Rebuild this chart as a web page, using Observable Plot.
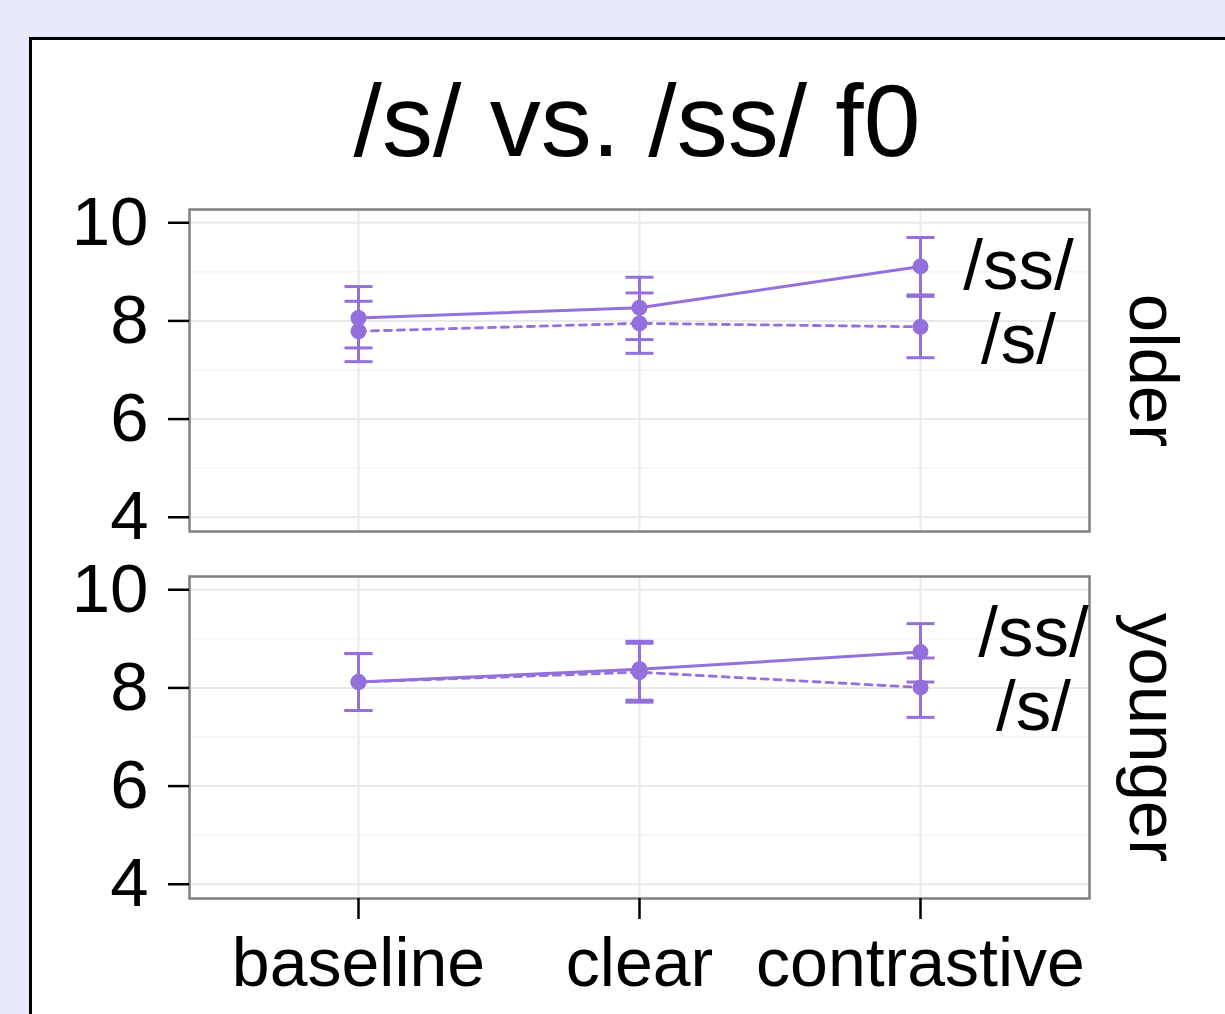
<!DOCTYPE html>
<html>
<head>
<meta charset="utf-8">
<script src="https://cdn.jsdelivr.net/npm/d3@7"></script>
<script src="https://cdn.jsdelivr.net/npm/@observablehq/plot@0.6"></script>
<style>
  html, body { margin: 0; padding: 0; }
  body { width: 1225px; height: 1014px; background: #e8eafc; overflow: hidden; position: relative;
         font-family: "Liberation Sans", Arial, Helvetica, sans-serif; }
  #box { position: absolute; left: 29px; top: 37px; width: 1300px; height: 1100px; background: #fff;
         border: 3px solid #000; box-sizing: border-box; }
  #title { position: absolute; left: 0; top: 70px; width: 1274px; text-align: center; font-size: 102px;
           line-height: 1; color: #000; white-space: nowrap; }
  #chart { position: absolute; left: 0; top: 0; }
</style>
</head>
<body>
<div id="box"></div>
<div id="title">/s/ vs. /ss/ f0</div>
<div id="chart"></div>
<script>
// ---- data ----
const categories = ["baseline", "clear", "contrastive"];
const groups = ["older", "younger"];
const seriesNames = ["/ss/", "/s/"];

const olderSsMean = [8.06, 8.27, 9.11];
const olderSsLo   = [7.45, 7.62, 8.53];
const olderSsHi   = [8.70, 8.89, 9.70];
const olderSMean  = [7.79, 7.95, 7.88];
const olderSLo    = [7.17, 7.34, 7.25];
const olderSHi    = [8.40, 8.57, 8.50];

const youngerSsMean = [8.12, 8.38, 8.73];
const youngerSsLo   = [7.54, 7.75, 8.12];
const youngerSsHi   = [8.70, 8.95, 9.31];
const youngerSMean  = [8.12, 8.32, 8.01];
const youngerSLo    = [7.54, 7.71, 7.40];
const youngerSHi    = [8.70, 8.91, 8.61];

const yTicks = [4, 6, 8, 10];
const yMinorTicks = [5, 7, 9];
const labelY = [9.12, 7.6]; // y position of the direct labels (/ss/, /s/)

// ---- build table ----
const source = {
  older:   {"/ss/": [olderSsMean, olderSsLo, olderSsHi],     "/s/": [olderSMean, olderSLo, olderSHi]},
  younger: {"/ss/": [youngerSsMean, youngerSsLo, youngerSsHi], "/s/": [youngerSMean, youngerSLo, youngerSHi]}
};
const rows = [];
for (const g of groups) for (const s of seriesNames) {
  const [m, lo, hi] = source[g][s];
  categories.forEach((c, i) => rows.push({group: g, series: s, cat: c, mean: m[i], lo: lo[i], hi: hi[i]}));
}
const labels = [];
for (const g of groups) seriesNames.forEach((s, i) => labels.push({group: g, series: s, cat: "contrastive", y: labelY[i]}));

const purple = "#9370db";
const cap = { draw(ctx, size) { const r = Math.sqrt(size / Math.PI); ctx.moveTo(-r, 0); ctx.lineTo(r, 0); } };

const chart = Plot.plot({
  width: 1225,
  height: 1014,
  marginLeft: 189,
  marginRight: 136,
  marginTop: 209,
  marginBottom: 116,
  style: { fontFamily: "'Liberation Sans', Arial, Helvetica, sans-serif", background: "transparent", overflow: "visible", color: "#000" },
  x: { type: "point", domain: categories, padding: 0.6 },
  y: { domain: [3.71, 10.27] },
  fy: { domain: groups, paddingInner: 0.1227, paddingOuter: 0 },
  marks: [
    Plot.gridY(yMinorTicks, { stroke: "#f3f3f3", strokeOpacity: 1, strokeWidth: 1.3 }),
    Plot.gridY(yTicks, { stroke: "#e9e9e9", strokeOpacity: 1, strokeWidth: 2 }),
    Plot.gridX(categories, { stroke: "#e9e9e9", strokeOpacity: 1, strokeWidth: 2 }),
    Plot.frame({ stroke: "#808080", strokeWidth: 2.5 }),
    Plot.axisY(yTicks, { tickSize: 21, tickPadding: 20, fontSize: 69, strokeWidth: 2.5, label: null }),
    Plot.axisX({ anchor: "bottom", tickSize: 21, tickPadding: 18, fontSize: 68, strokeWidth: 2.5, label: null }),
    Plot.axisFy({ anchor: "right", tickSize: 0, tickPadding: 63, fontSize: 69, tickRotate: 90,
                  textAnchor: "middle", lineAnchor: "middle", label: null }),
    Plot.line(rows.filter(d => d.series === "/s/"), { x: "cat", y: "mean", fy: "group", z: "group",
              stroke: purple, strokeWidth: 2.8, strokeDasharray: "7,6" }),
    Plot.line(rows.filter(d => d.series === "/ss/"), { x: "cat", y: "mean", fy: "group", z: "group",
              stroke: purple, strokeWidth: 3 }),
    Plot.ruleX(rows, { x: "cat", y1: "lo", y2: "hi", fy: "group", stroke: purple, strokeWidth: 3 }),
    Plot.dot(rows, { x: "cat", y: "lo", fy: "group", symbol: cap, r: 14, fill: "none", stroke: purple, strokeWidth: 3 }),
    Plot.dot(rows, { x: "cat", y: "hi", fy: "group", symbol: cap, r: 14, fill: "none", stroke: purple, strokeWidth: 3 }),
    Plot.dot(rows, { x: "cat", y: "mean", fy: "group", r: 8, fill: purple, stroke: "none" }),
    Plot.text(labels.filter(d => d.group === "older"), { x: "cat", y: "y", fy: "group", text: "series", dx: 98,
              fontSize: 71, fill: "#000", textAnchor: "middle", lineAnchor: "middle" }),
    Plot.text(labels.filter(d => d.group === "younger"), { x: "cat", y: "y", fy: "group", text: "series", dx: 113,
              fontSize: 71, fill: "#000", textAnchor: "middle", lineAnchor: "middle" })
  ]
});
document.getElementById("chart").append(chart);
</script>
</body>
</html>
